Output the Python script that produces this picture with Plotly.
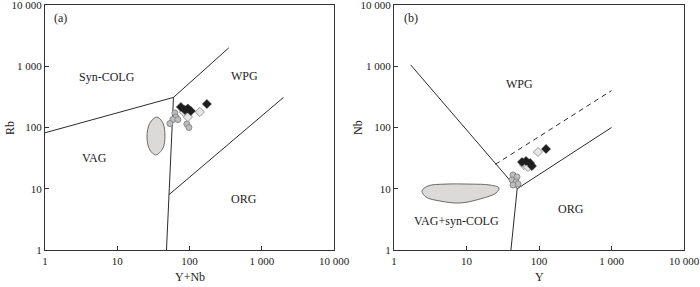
import math
import plotly.graph_objects as go

# ---------------- data ----------------
tick_vals = [1, 10, 100, 1000, 10000]
tick_text = ["1", "10", "100", "1 000", "10 000"]

# Panel (a): Rb vs Y+Nb
a_syncolg_vag_x = [1, 60]
a_syncolg_vag_y = [82, 310]
a_syncolg_wpg_x = [60, 350]
a_syncolg_wpg_y = [310, 2000]
a_vag_wpg_x = [60, 52, 48]
a_vag_wpg_y = [310, 8, 1]
a_wpg_org_x = [52, 2000]
a_wpg_org_y = [8, 310]

a_field_x = [35.4, 42.9, 45.7, 42.9, 34.3, 28.3, 25.8, 28.3, 35.4]
a_field_y = [148, 118, 72.6, 46.3, 35.6, 42.9, 70, 118, 148]

a_black_x = [76.0, 95.0, 104.5, 86.4, 174]
a_black_y = [216, 204, 186, 193, 242]
a_light_x = [83.7, 95, 139]
a_light_y = [179, 148, 179]
a_grey_x = [62.8, 64.9, 58.9, 53.6, 69.1, 92.0, 98.1]
a_grey_y = [173, 148, 135, 116, 135, 114, 100]

a_label_text = ["Syn-COLG", "WPG", "VAG", "ORG", "(a)"]
a_label_x = [7.2, 584, 4.9, 567, 1.66]
a_label_y = [665, 690, 31.7, 6.8, 6150]

# Panel (b): Nb vs Y
b_wpg_x = [1.7, 50]
b_wpg_y = [1050, 10]
b_low_x = [50, 41]
b_low_y = [10, 1]
b_org_x = [50, 1000]
b_org_y = [10, 100]
b_dash_x = [25, 1000]
b_dash_y = [25, 400]

b_field_x = [2.43, 2.94, 5.05, 11.2, 21.1, 28.1, 25.5, 15.3, 8.13, 4.31, 2.76, 2.43]
b_field_y = [9.19, 11.1, 11.9, 11.9, 11.5, 10.3, 8.53, 6.80, 5.85, 6.31, 7.33, 9.19]

b_black_x = [58.3, 66.2, 75.2, 80.0, 125]
b_black_y = [27.3, 28.4, 26.3, 23.5, 44.6]
b_light_x = [96.9, 62.1, 70.5]
b_light_y = [39.8, 24.4, 22.6]
b_grey_x = [43.8, 49.7, 42.4, 48.2, 51.3, 43.8]
b_grey_y = [16.8, 15.6, 13.9, 12.9, 12.0, 11.5]

b_label_text = ["WPG", "VAG+syn-COLG", "ORG", "(b)"]
b_label_x = [53, 7.2, 276, 1.70]
b_label_y = [514, 2.97, 4.67, 6150]

# ---------------- styles ----------------
FONT = "Liberation Serif"
LINE = dict(color="#2b2b2b", width=1)
FIELD_FILL = "#dcdad8"
FIELD_LINE_COLOR = "#6e6a66"

fig = go.Figure()


def add_line(x, y, xa, ya, dash=None):
    ln = dict(LINE)
    if dash:
        ln["dash"] = dash
    fig.add_trace(go.Scatter(x=x, y=y, mode="lines", line=ln,
                             xaxis=xa, yaxis=ya, hoverinfo="skip"))


def add_field(x, y, xa, ya):
    fig.add_trace(go.Scatter(x=x, y=y, mode="lines", fill="toself",
                             fillcolor=FIELD_FILL,
                             line=dict(color=FIELD_LINE_COLOR, width=1, shape="spline", smoothing=1.0),
                             xaxis=xa, yaxis=ya, hoverinfo="skip"))


def add_points(gx, gy, lx, ly, bx, by, xa, ya):
    fig.add_trace(go.Scatter(x=gx, y=gy, mode="markers", xaxis=xa, yaxis=ya,
                             marker=dict(symbol="circle", size=6, color="#bdbdbd",
                                         line=dict(color="#8a8a8a", width=1))))
    fig.add_trace(go.Scatter(x=lx, y=ly, mode="markers", xaxis=xa, yaxis=ya,
                             marker=dict(symbol="diamond", size=7, color="#e6e6e6",
                                         line=dict(color="#9a9a9a", width=1))))
    fig.add_trace(go.Scatter(x=bx, y=by, mode="markers", xaxis=xa, yaxis=ya,
                             marker=dict(symbol="diamond", size=7, color="#1e1e1e",
                                         line=dict(color="#1e1e1e", width=0.5))))


# panel a
add_field(a_field_x, a_field_y, "x", "y")
add_line(a_syncolg_vag_x, a_syncolg_vag_y, "x", "y")
add_line(a_syncolg_wpg_x, a_syncolg_wpg_y, "x", "y")
add_line(a_vag_wpg_x, a_vag_wpg_y, "x", "y")
add_line(a_wpg_org_x, a_wpg_org_y, "x", "y")
add_points(a_grey_x, a_grey_y, a_light_x, a_light_y, a_black_x, a_black_y, "x", "y")

# panel b
add_field(b_field_x, b_field_y, "x2", "y2")
add_line(b_wpg_x, b_wpg_y, "x2", "y2")
add_line(b_low_x, b_low_y, "x2", "y2")
add_line(b_org_x, b_org_y, "x2", "y2")
add_line(b_dash_x, b_dash_y, "x2", "y2", dash="5px,4px")
add_points(b_grey_x, b_grey_y, b_light_x, b_light_y, b_black_x, b_black_y, "x2", "y2")

annotations = []
for t, x, y in zip(a_label_text, a_label_x, a_label_y):
    annotations.append(dict(text=t, x=math.log10(x), y=math.log10(y),
                            xref="x", yref="y", showarrow=False,
                            xanchor="center", yanchor="middle",
                            font=dict(family=FONT, size=12, color="#222")))
for t, x, y in zip(b_label_text, b_label_x, b_label_y):
    annotations.append(dict(text=t, x=math.log10(x), y=math.log10(y),
                            xref="x2", yref="y2", showarrow=False,
                            xanchor="center", yanchor="middle",
                            font=dict(family=FONT, size=12, color="#222")))

# layout geometry
ML, MR, MT, MB = 45, 16, 5, 37
PW = 700 - ML - MR
PH = 287 - MT - MB
dom_a = [0, (334 - ML) / PW]
dom_b = [(394 - ML) / PW, 1]

title_font = dict(family=FONT, size=12, color="#222")
annotations += [
    dict(text="Y+Nb", x=(190 - ML) / PW, y=-(277 - 250) / PH, xref="paper", yref="paper",
         xanchor="center", yanchor="middle", showarrow=False, font=title_font),
    dict(text="Y", x=(539 - ML) / PW, y=-(277 - 250) / PH, xref="paper", yref="paper",
         xanchor="center", yanchor="middle", showarrow=False, font=title_font),
    dict(text="Rb", x=(10 - ML) / PW, y=(250 - 128) / PH, xref="paper", yref="paper",
         xanchor="center", yanchor="middle", showarrow=False, textangle=-90, font=title_font),
    dict(text="Nb", x=(358 - ML) / PW, y=(250 - 128) / PH, xref="paper", yref="paper",
         xanchor="center", yanchor="middle", showarrow=False, textangle=-90, font=title_font),
]

axis_common = dict(type="log", range=[0, 4], tickvals=tick_vals, ticktext=tick_text,
                   ticks="inside", ticklen=4, tickwidth=1, tickcolor="#333",
                   showline=True, linecolor="#333", linewidth=1, mirror=True,
                   showgrid=False, zeroline=False, automargin=False,
                   ticklabeloverflow="allow",
                   tickfont=dict(family=FONT, size=11, color="#222"))

fig.update_layout(
    width=700, height=287,
    margin=dict(l=ML, r=MR, t=MT, b=MB),
    paper_bgcolor="white", plot_bgcolor="white",
    showlegend=False,
    xaxis=dict(domain=dom_a, anchor="y", ticklabelstandoff=1, **axis_common),
    yaxis=dict(domain=[0, 1], anchor="x", ticklabelstandoff=0, **axis_common),
    xaxis2=dict(domain=dom_b, anchor="y2", ticklabelstandoff=1, **axis_common),
    yaxis2=dict(domain=[0, 1], anchor="x2", ticklabelstandoff=0, **axis_common),
    annotations=annotations,
)

fig.write_html(
    "out.html",
    config={"displayModeBar": False},
    post_script="document.body.style.margin='0';document.body.style.overflow='hidden';",
)
